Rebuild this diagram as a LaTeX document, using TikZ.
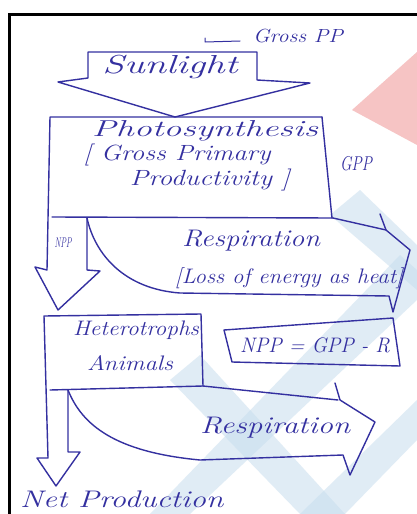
\documentclass[tikz,border=0pt]{standalone}
\usepackage{fontspec}
\usepackage{graphicx}
\definecolor{inkblue}{RGB}{52,48,160}
\definecolor{wmpink}{RGB}{246,196,196}
\definecolor{wmblue}{RGB}{200,222,238}
\newcommand{\hwtxt}[3]{\resizebox{#1pt}{\height}{\fontsize{#2}{#2}\selectfont\itshape #3}}
\begin{document}
\begin{tikzpicture}[x=1pt,y=-1pt,
  ink/.style={draw=inkblue, line width=1.4pt, line join=round, line cap=round},
  lbl/.style={text=inkblue, inner sep=0pt}]
\useasboundingbox (0,0) rectangle (417,514);
\fill[white] (0,0) rectangle (417,514);
% watermark
\fill[wmpink] (352,110) -- (417,52) -- (417,145) -- cycle;
\fill[wmblue, opacity=0.55] (330,215) -- (360,190) -- (417,245) -- (417,290) -- cycle;
\fill[wmblue, opacity=0.55] (150,514) -- (400,255) -- (417,270) -- (417,300) -- (190,514) -- cycle;
\fill[wmblue, opacity=0.55] (170,380) -- (200,355) -- (345,514) -- (300,514) -- cycle;
\fill[wmblue, opacity=0.55] (300,514) -- (417,400) -- (417,440) -- (345,514) -- cycle;
% frame
\draw[line width=3pt] (9,514) -- (9,14) -- (417,14);
% Gross PP
\coordinate (gl) at (205,42);
\coordinate (gr) at (240,41);
\draw[ink, line width=1pt] (205,38) -- (gl) -- (gr);
\node[lbl] (gpplab) at (298,36) {\hwtxt{90}{19}{Gross PP}};
% Sunlight block arrow
\draw[ink] (88,78) -- (88,52) -- (257,52) -- (257,80) -- (310,83) -- (175,117) -- (58,82) -- cycle;
\node[lbl] (sun) at (170,67) {\hwtxt{135}{26}{Sunlight}};
% Photosynthesis box + NPP arrow
\draw[ink] (322,117) -- (50,117) -- (47,270) -- (35,267) -- (58,310) -- (100,271) -- (87,270) -- (87,218);
\draw[ink] (322,117) -- (332,218);
\draw[ink] (52,217) -- (333,218);
\node[lbl] (ps) at (205,131) {\hwtxt{226}{23}{Photosynthesis}};
\node[lbl] (gp) at (177,155) {\hwtxt{187}{22}{[ Gross Primary}};
\node[lbl] (pr) at (210,180) {\hwtxt{160}{22}{Productivity ]}};
\node[lbl] (gpp) at (356,164) {\hwtxt{32}{20}{GPP}};
\node[lbl] (npp) at (63,243) {\hwtxt{17}{14}{NPP}};
% Respiration arrow 1
\draw[ink] (333,218) -- (386,230);
\draw[ink] (380,214) -- (386,230) -- (410,250) -- (393,312) -- (389,296) -- (180,293)
  .. controls (125,289) and (95,255) .. (87,218);
\node[lbl] (r1) at (251,241) {\hwtxt{138}{24}{Respiration}};
\node[lbl] (loss) at (289,278) {\hwtxt{228}{21}{[Loss of energy as heat]}};
% Heterotrophs box + Net production arrow
\draw[ink] (203,386) -- (201,314) -- (44,316) -- (48,458) -- (37,458) -- (56,486) -- (80,452) -- (68,452) -- (68,390);
\draw[ink] (50,390) -- (203,386) -- (338,400);
\node[lbl] (het) at (136,330) {\hwtxt{126}{21}{Heterotrophs}};
\node[lbl] (ani) at (130,363) {\hwtxt{86}{21}{Animals}};
% NPP formula box
\draw[ink] (224,330) -- (393,318) -- (400,366) -- (232,362) -- cycle;
\node[lbl] (eq) at (315,345) {\hwtxt{150}{21}{NPP = GPP - R}};
% Respiration arrow 2
\draw[ink] (335,383) -- (340,400) -- (375,422) -- (350,475) -- (343,455) -- (200,460)
  .. controls (115,452) and (82,425) .. (68,390);
\node[lbl] (r2) at (275,428) {\hwtxt{150}{24}{Respiration}};
% Net production
\node[lbl, anchor=base west] (net) at (20,507) {\hwtxt{203}{24}{Net Production}};
\end{tikzpicture}
\end{document}
